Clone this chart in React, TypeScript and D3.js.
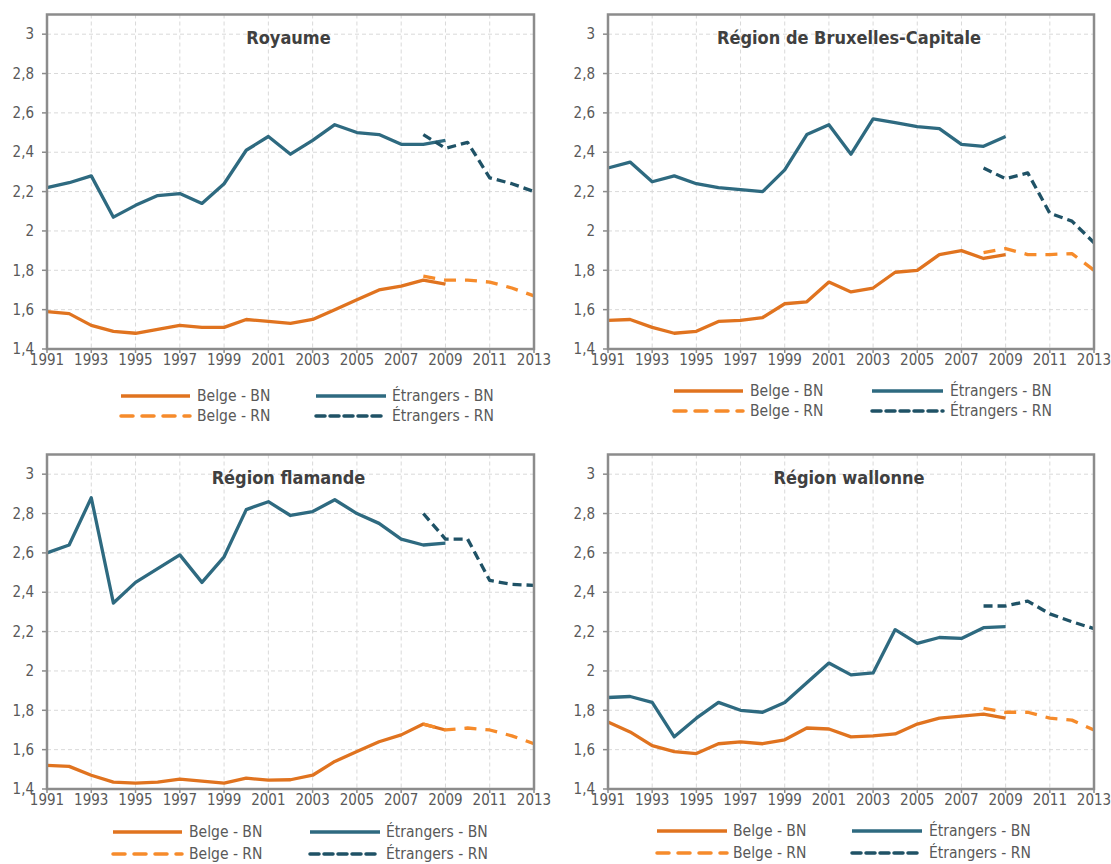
import React from 'react'
import * as d3 from 'd3'

// années
const yearsBN = [1991, 1992, 1993, 1994, 1995, 1996, 1997, 1998, 1999, 2000, 2001, 2002, 2003, 2004, 2005, 2006, 2007, 2008, 2009]
const yearsRN = [2008, 2009, 2010, 2011, 2012, 2013]
const xTicks = [1991, 1993, 1995, 1997, 1999, 2001, 2003, 2005, 2007, 2009, 2011, 2013]
const yTicks = [1.4, 1.6, 1.8, 2, 2.2, 2.4, 2.6, 2.8, 3]

// Royaume
const royBelgeBN = [1.59, 1.58, 1.52, 1.49, 1.48, 1.50, 1.52, 1.51, 1.51, 1.55, 1.54, 1.53, 1.55, 1.60, 1.65, 1.70, 1.72, 1.75, 1.73]
const royEtrBN = [2.22, 2.245, 2.28, 2.07, 2.13, 2.18, 2.19, 2.14, 2.24, 2.41, 2.48, 2.39, 2.46, 2.54, 2.50, 2.49, 2.44, 2.44, 2.46]
const royBelgeRN = [1.77, 1.75, 1.75, 1.74, 1.71, 1.67]
const royEtrRN = [2.49, 2.42, 2.45, 2.27, 2.24, 2.20]

// Bruxelles
const bxlBelgeBN = [1.545, 1.55, 1.51, 1.48, 1.49, 1.54, 1.545, 1.56, 1.63, 1.64, 1.74, 1.69, 1.71, 1.79, 1.80, 1.88, 1.90, 1.86, 1.88]
const bxlEtrBN = [2.32, 2.35, 2.25, 2.28, 2.24, 2.22, 2.21, 2.20, 2.31, 2.49, 2.54, 2.39, 2.57, 2.55, 2.53, 2.52, 2.44, 2.43, 2.48]
const bxlBelgeRN = [1.89, 1.91, 1.88, 1.88, 1.885, 1.80]
const bxlEtrRN = [2.32, 2.265, 2.295, 2.09, 2.05, 1.94]

// Flandre
const flaBelgeBN = [1.52, 1.515, 1.47, 1.435, 1.43, 1.435, 1.45, 1.44, 1.43, 1.455, 1.445, 1.447, 1.47, 1.54, 1.59, 1.64, 1.675, 1.73, 1.70]
const flaEtrBN = [2.60, 2.64, 2.88, 2.345, 2.45, 2.52, 2.59, 2.45, 2.58, 2.82, 2.86, 2.79, 2.81, 2.87, 2.80, 2.75, 2.67, 2.64, 2.65]
const flaBelgeRN = [1.73, 1.70, 1.71, 1.70, 1.67, 1.63]
const flaEtrRN = [2.80, 2.67, 2.67, 2.46, 2.44, 2.435]

// Wallonie
const walBelgeBN = [1.74, 1.69, 1.62, 1.59, 1.58, 1.63, 1.64, 1.63, 1.65, 1.71, 1.705, 1.665, 1.67, 1.68, 1.73, 1.76, 1.77, 1.78, 1.76]
const walEtrBN = [1.865, 1.87, 1.84, 1.665, 1.76, 1.84, 1.80, 1.79, 1.84, 1.94, 2.04, 1.98, 1.99, 2.21, 2.14, 2.17, 2.165, 2.22, 2.225]
const walBelgeRN = [1.81, 1.79, 1.79, 1.76, 1.75, 1.70]
const walEtrRN = [2.33, 2.33, 2.355, 2.29, 2.25, 2.215]

const seriesNames = ['Belge - BN', 'Étrangers - BN', 'Belge - RN', 'Étrangers - RN']
const colors = ['#E0731F', '#2E6A80', '#F68B2B', '#1F5266']
const dashes = [null, null, '12,9', '9,5']

const panels = [
  { title: 'Royaume', data: [royBelgeBN, royEtrBN, royBelgeRN, royEtrRN],
    x0: 47, x1: 534, top: 14.5, bottom: 349, rows: [396, 416], c1: [121, 190, 197], c2: [316, 386, 392] },
  { title: 'Région de Bruxelles-Capitale', data: [bxlBelgeBN, bxlEtrBN, bxlBelgeRN, bxlEtrRN],
    x0: 608, x1: 1094, top: 14.5, bottom: 349, rows: [391, 411], c1: [674, 743, 750], c2: [872, 943, 950] },
  { title: 'Région flamande', data: [flaBelgeBN, flaEtrBN, flaBelgeRN, flaEtrRN],
    x0: 47, x1: 534, top: 454.5, bottom: 789, rows: [832, 854], c1: [113, 182, 189], c2: [310, 380, 386] },
  { title: 'Région wallonne', data: [walBelgeBN, walEtrBN, walBelgeRN, walEtrRN],
    x0: 608, x1: 1094, top: 454.5, bottom: 789, rows: [831, 853], c1: [657, 727, 733], c2: [852, 922, 929] },
]

const font = "'DejaVu Sans Condensed', 'DejaVu Sans', sans-serif"
const fmt = (v: number) => String(+v.toFixed(1)).replace('.', ',')

const Panel = ({ p }: { p: any }) => {
  const x = d3.scaleLinear().domain([1991, 2013]).range([p.x0, p.x1])
  const y = d3.scaleLinear().domain([1.4, 3.1]).range([p.bottom, p.top])
  const line = d3.line<[number, number]>().x(d => x(d[0])).y(d => y(d[1]))
  const cx = (p.x0 + p.x1) / 2 - 2

  // legend layout: [col, row] for each series
  const legendPos = [[p.c1, p.rows[0]], [p.c2, p.rows[0]], [p.c1, p.rows[1]], [p.c2, p.rows[1]]]

  return (
    <g>
      {/* grid */}
      {yTicks.filter(t => t > 1.4).map(t => (
        <line key={'h' + t} x1={p.x0} x2={p.x1} y1={y(t)} y2={y(t)} stroke="#D9D9D9" strokeWidth={1} strokeDasharray="4,3" />
      ))}
      {xTicks.filter(t => t > 1991 && t < 2013).map(t => (
        <line key={'v' + t} x1={x(t)} x2={x(t)} y1={p.top} y2={p.bottom} stroke="#D9D9D9" strokeWidth={1} strokeDasharray="4,3" />
      ))}
      {/* ticks */}
      {yTicks.map(t => (
        <g key={'yt' + t}>
          <line x1={p.x0 - 5} x2={p.x0} y1={y(t)} y2={y(t)} stroke="#8C8C8C" strokeWidth={1.5} />
          <text x={p.x0 - 13} y={y(t)} dy="0.35em" textAnchor="end" fontSize={15} fill="#595959" fontFamily={font}>{fmt(t)}</text>
        </g>
      ))}
      {xTicks.map(t => (
        <g key={'xt' + t}>
          <line x1={x(t)} x2={x(t)} y1={p.bottom} y2={p.bottom + 4} stroke="#8C8C8C" strokeWidth={1.5} />
          <text x={x(t)} y={p.bottom + 16} textAnchor="middle" fontSize={15} fill="#595959" fontFamily={font}>{t}</text>
        </g>
      ))}
      {/* series */}
      {p.data.map((vals: number[], i: number) => {
        const yrs = i < 2 ? yearsBN : yearsRN
        const pts = yrs.map((yr, j) => [yr, vals[j]] as [number, number])
        return (
          <path key={'s' + i} d={line(pts) || ''} fill="none" stroke={colors[i]} strokeWidth={3.3}
            strokeDasharray={dashes[i] || undefined} strokeLinejoin="round" />
        )
      })}
      {/* frame */}
      <rect x={p.x0} y={p.top} width={p.x1 - p.x0} height={p.bottom - p.top} fill="none" stroke="#8C8C8C" strokeWidth={2.5} />
      <text x={cx} y={p.top + 23} dy="0.35em" textAnchor="middle" fontSize={18} fontWeight="bold" fill="#404040" fontFamily={font}>{p.title}</text>
      {/* legend */}
      {seriesNames.map((name, i) => {
        const [c, ry] = legendPos[i]
        return (
          <g key={'l' + i}>
            <line x1={c[0]} x2={c[1]} y1={ry} y2={ry} stroke={colors[i]} strokeWidth={3.5}
              strokeDasharray={dashes[i] || undefined} strokeLinecap={dashes[i] ? 'round' : 'butt'} />
            <text x={c[2]} y={ry} dy="0.35em" fontSize={15.5} fill="#595959" fontFamily={font}>{name}</text>
          </g>
        )
      })}
    </g>
  )
}

export default function App() {
  return (
    <svg width={1111} height={864} style={{ position: 'absolute', left: 0, top: 0, background: '#fff' }}>
      <rect width={1111} height={864} fill="#fff" />
      {panels.map(p => <Panel key={p.title} p={p} />)}
    </svg>
  )
}
